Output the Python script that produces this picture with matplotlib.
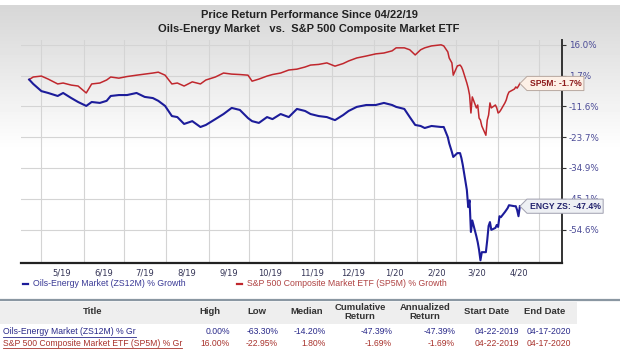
import numpy as np
import pandas as pd
import matplotlib
matplotlib.use("Agg")
import matplotlib.pyplot as plt
import matplotlib.dates as mdates
from matplotlib.lines import Line2D
from matplotlib.patches import Rectangle
from matplotlib.path import Path
from matplotlib.ticker import FixedLocator, FuncFormatter

############
# DONNÉES
############
dates = pd.to_datetime([
    "2019-04-22", "2019-04-25", "2019-05-01", "2019-05-06", "2019-05-13", "2019-05-17", "2019-05-23", "2019-05-28",
    "2019-06-03", "2019-06-07", "2019-06-13", "2019-06-18", "2019-06-21", "2019-06-27", "2019-07-03", "2019-07-10",
    "2019-07-16", "2019-07-22", "2019-07-26", "2019-07-31", "2019-08-05", "2019-08-09", "2019-08-14", "2019-08-20",
    "2019-08-26", "2019-08-30", "2019-09-06", "2019-09-12", "2019-09-18", "2019-09-24", "2019-09-30", "2019-10-03",
    "2019-10-08", "2019-10-14", "2019-10-18", "2019-10-24", "2019-10-30", "2019-11-05", "2019-11-11", "2019-11-15",
    "2019-11-21", "2019-11-27", "2019-12-03", "2019-12-09", "2019-12-13", "2019-12-19", "2019-12-26", "2020-01-02",
    "2020-01-08", "2020-01-14", "2020-01-17", "2020-01-23", "2020-01-27", "2020-01-31", "2020-02-04", "2020-02-07",
    "2020-02-12", "2020-02-19", "2020-02-21", "2020-02-24", "2020-02-25", "2020-02-27", "2020-02-28", "2020-03-02",
    "2020-03-04", "2020-03-05", "2020-03-06", "2020-03-09", "2020-03-10", "2020-03-11", "2020-03-12", "2020-03-13",
    "2020-03-16", "2020-03-17", "2020-03-18", "2020-03-19", "2020-03-20", "2020-03-23", "2020-03-24", "2020-03-25",
    "2020-03-26", "2020-03-27", "2020-03-30", "2020-03-31", "2020-04-01", "2020-04-02", "2020-04-03", "2020-04-06",
    "2020-04-07", "2020-04-08", "2020-04-09", "2020-04-13", "2020-04-14", "2020-04-15", "2020-04-16", "2020-04-17"])

# Oils-Energy Market (ZS12M) % growth
energy = [0.0, -1.9, -5.0, -5.8, -7.1, -5.8, -8.0, -9.7,
          -11.4, -9.7, -10.1, -9.2, -7.1, -6.7, -6.7, -5.8,
          -7.5, -8.0, -9.2, -11.4, -15.4, -15.8, -18.5, -17.4,
          -19.7, -18.9, -16.6, -14.6, -12.2, -13.0, -16.2, -17.4,
          -18.1, -15.8, -16.6, -14.6, -15.8, -12.6, -13.4, -14.6,
          -15.4, -15.8, -17.0, -15.0, -13.4, -11.8, -11.0, -11.0,
          -10.1, -11.0, -11.8, -12.6, -15.8, -18.9, -19.3, -20.1,
          -19.3, -19.7, -19.7, -23.7, -25.9, -29.1, -30.9, -29.5,
          -29.5, -31.3, -33.8, -42.2, -47.7, -45.6, -55.3, -51.8,
          -56.5, -58.2, -60.4, -63.3, -61.0, -61.0, -57.6, -53.5,
          -52.3, -54.7, -54.1, -53.2, -53.8, -50.5, -50.8, -49.2,
          -48.6, -48.0, -47.1, -47.4, -47.4, -48.6, -50.5, -47.4]

# S&P 500 Composite Market ETF (SP5M) % growth
sp500 = [0.0, 1.1, 1.5, 0.2, -1.9, -1.5, -2.4, -2.8,
         -5.8, -1.9, -1.5, -0.2, 1.1, 0.6, 1.3, 1.9,
         2.4, 2.9, 3.3, 1.9, -1.9, -1.5, -2.8, -1.0,
         -1.9, -0.2, 1.1, 2.9, 2.4, 2.2, 1.9, -0.7,
         0.2, 1.5, 2.2, 2.9, 4.3, 4.7, 5.7, 6.6,
         6.9, 7.6, 6.1, 7.3, 8.5, 9.9, 10.8, 11.8,
         12.2, 13.2, 14.6, 14.6, 13.7, 11.3, 13.7, 14.6,
         15.5, 16.0, 15.5, 12.7, 9.9, 7.6, 1.9, 6.2,
         6.6, 5.8, 4.3, -1.5, -3.7, -6.7, -14.2, -7.5,
         -12.2, -11.0, -16.2, -17.0, -19.3, -22.95, -17.0, -15.0,
         -10.1, -12.2, -11.0, -12.2, -14.2, -13.8, -13.0, -10.1,
         -8.8, -6.7, -5.4, -4.1, -3.2, -3.7, -2.8, -1.7]

# graduations de l'axe vertical (espacement régulier, valeurs non linéaires)
yticks = [-54.6, -45.1, -34.9, -23.7, -11.6, 1.7, 16.0]
ytick_labels = ["-54.6%", "-45.1%", "-34.9%", "-23.7%", "-11.6%", "1.7%", "16.0%"]
# points d'ancrage supplémentaires pour prolonger l'échelle hors des graduations
scale_vals = [-71.3, -63.3] + yticks + [31.3]

table_header = ["Title", "High", "Low", "Median", "Cumulative\nReturn",
                "Annualized\nReturn", "Start Date", "End Date"]
table_rows = [
    ["Oils-Energy Market (ZS12M) % Gr", "0.00%", "-63.30%", "-14.20%", "-47.39%", "-47.39%",
     "04-22-2019", "04-17-2020"],
    ["S&P 500 Composite Market ETF (SP5M) % Gr", "16.00%", "-22.95%", "1.80%", "-1.69%", "-1.69%",
     "04-22-2019", "04-17-2020"],
]

BLUE = "#1c1c9a"
RED = "#c0272d"
BLUE_TXT = "#2a2a8a"
RED_TXT = "#a8322c"

plt.rcParams["font.family"] = ["Liberation Sans", "DejaVu Sans"]

W, H = 620, 356
fig = plt.figure(figsize=(W / 100, H / 100), dpi=100)

# fond dégradé gris -> blanc en haut de la figure
bg = fig.add_axes([0, 0, 1, 1], zorder=-10)
grad = np.ones((H, 1))
top = 5
fade = 150
for i in range(H):
    if top <= i < fade:
        grad[i, 0] = 0.84 + 0.16 * (i - top) / (fade - top)
    elif i < top:
        grad[i, 0] = 1.0
grad = np.repeat(grad, 2, axis=1)
bg.imshow(grad, cmap="gray", vmin=0, vmax=1, aspect="auto", extent=[0, 1, 0, 1])
bg.set_axis_off()

############################
# GRAPHIQUE
############################
ax = fig.add_axes([21 / W, 1 - 263 / H, (562 - 21) / W, (263 - 40) / H])
ax.set_facecolor("none")


def fwd(v):
    return np.interp(v, scale_vals, np.arange(len(scale_vals)))


def inv(p):
    return np.interp(p, np.arange(len(scale_vals)), scale_vals)


ax.set_yscale("function", functions=(fwd, inv))

ax.plot(dates, sp500, color=RED, lw=1.1, zorder=3)
ax.plot(dates, energy, color=BLUE, lw=1.5, zorder=3)

ax.set_ylim(-64.0, 18.4)
ax.set_xlim(pd.Timestamp("2019-04-16"), pd.Timestamp("2020-05-18"))

ax.yaxis.set_major_locator(FixedLocator(yticks))
ax.set_yticklabels(ytick_labels)
ax.yaxis.tick_right()
ax.tick_params(axis="y", which="both", direction="out", length=3, width=0.8, colors="#333333",
               labelcolor="#4a4a96", labelsize=6.3, pad=2)
for lab in ax.get_yticklabels():
    lab.set_family("DejaVu Sans")

# étiquettes des mois au milieu du mois (5/19 ... 4/20), grille au 1er du mois
label_days = pd.date_range("2019-05-01", "2020-04-01", freq="MS") + pd.Timedelta(days=15)
ax.xaxis.set_major_locator(FixedLocator(mdates.date2num(label_days)))
ax.xaxis.set_minor_locator(mdates.MonthLocator(bymonthday=1))
ax.xaxis.set_major_formatter(FuncFormatter(lambda x, p: "%d/%s" % (mdates.num2date(x).month,
                                                                  mdates.num2date(x).strftime("%y"))))
ax.tick_params(axis="x", which="both", length=0, labelsize=6.0, labelcolor="#333355", pad=4)
for lab in ax.get_xticklabels():
    lab.set_family("DejaVu Sans")

ax.grid(axis="y", which="major", color="#d4d4d4", lw=0.8)
ax.grid(axis="x", which="minor", color="#d4d4d4", lw=0.8)

for s in ["top", "left"]:
    ax.spines[s].set_visible(False)
ax.spines["bottom"].set_color("#222222")
ax.spines["bottom"].set_linewidth(1.6)
ax.spines["right"].set_color("#333333")
ax.spines["right"].set_linewidth(1.4)


# étiquettes en forme d'étiquette (pointe à gauche)
def tag_box(x0, y0, width, height, mutation_size):
    pad = 0.3 * mutation_size
    x0, y0 = x0 - pad, y0 - pad
    x1, y1 = x0 + width + 2 * pad, y0 + height + 2 * pad
    ym = (y0 + y1) / 2
    tip = (y1 - y0) / 2
    return Path([(x0 - tip, ym), (x0, y0), (x1, y0), (x1, y1), (x0, y1), (x0 - tip, ym)], closed=True)


ax.annotate("SP5M: %.1f%%" % sp500[-1], xy=(dates[-1], sp500[-1]), xytext=(7, 0),
            textcoords="offset points", ha="left", va="center", fontsize=6.2, fontweight="bold",
            color="#8e1c1c", annotation_clip=False, zorder=10,
            bbox=dict(boxstyle=tag_box, fc="#fdf0e6", ec="#b8a8a0", lw=0.7))
ax.annotate("ENGY ZS: %.1f%%" % energy[-1], xy=(dates[-1], energy[-1]), xytext=(7, 0),
            textcoords="offset points", ha="left", va="center", fontsize=6.2, fontweight="bold",
            color="#24246e", annotation_clip=False, zorder=10,
            bbox=dict(boxstyle=tag_box, fc="#eef0f4", ec="#a0a0b0", lw=0.7))

############################
# TITRES, LÉGENDE, TABLEAU
############################
fig.text(309 / W, 1 - 15 / H, "Price Return Performance Since 04/22/19", ha="center", va="center",
         fontsize=8, fontweight="bold", color="#222222")
fig.text(309 / W, 1 - 29 / H, "Oils-Energy Market   vs.  S&P 500 Composite Market ETF", ha="center",
         va="center", fontsize=8, fontweight="bold", color="#222222")

ly = 1 - 284 / H
fig.add_artist(Line2D([23 / W, 28 / W], [ly, ly], color=BLUE, lw=1.6, transform=fig.transFigure))
fig.text(33 / W, ly, "Oils-Energy Market (ZS12M) % Growth", ha="left", va="center", fontsize=6.3,
         color="#3a3a96")
fig.add_artist(Line2D([237 / W, 242 / W], [ly, ly], color=RED, lw=1.6, transform=fig.transFigure))
fig.text(247 / W, ly, "S&P 500 Composite Market ETF (SP5M) % Growth", ha="left", va="center",
         fontsize=6.3, color="#b04444")

# séparateur et en-tête du tableau
fig.add_artist(Line2D([0, 1], [1 - 300 / H, 1 - 300 / H], color="#8a97a2", lw=1.6,
                      transform=fig.transFigure))
fig.add_artist(Rectangle((0, 1 - 324 / H), 577 / W, 22 / H, transform=fig.transFigure,
                         fc="#eeeeee", ec="none", zorder=-1))

header_x = [93, 210, 257, 307, 360, 425, 487, 545]
for hx, txt in zip(header_x, table_header):
    fig.text(hx / W, 1 - 312 / H, txt, ha="center", va="center", fontsize=6.8, fontweight="bold",
             color="#333333", linespacing=1.05)

value_right = [230, 278, 326, 392, 455]
date_center = [497, 549]
row_y = [332, 343]
row_col = [BLUE_TXT, RED_TXT]

fig.canvas.draw()
renderer = fig.canvas.get_renderer()
for row, yy, col in zip(table_rows, row_y, row_col):
    t = fig.text(3 / W, 1 - yy / H, row[0], ha="left", va="center", fontsize=6.2, color=col)
    bb = t.get_window_extent(renderer)
    uy = bb.y0 / H - 0.4 / H
    fig.add_artist(Line2D([bb.x0 / W, bb.x1 / W], [uy, uy], color=col, lw=0.6,
                          transform=fig.transFigure))
    for vx, txt in zip(value_right, row[1:6]):
        fig.text(vx / W, 1 - yy / H, txt, ha="right", va="center", fontsize=6.2, color=col)
    for dx, txt in zip(date_center, row[6:]):
        fig.text(dx / W, 1 - yy / H, txt, ha="center", va="center", fontsize=6.2, color=col)

fig.savefig("out.png", dpi=100)
